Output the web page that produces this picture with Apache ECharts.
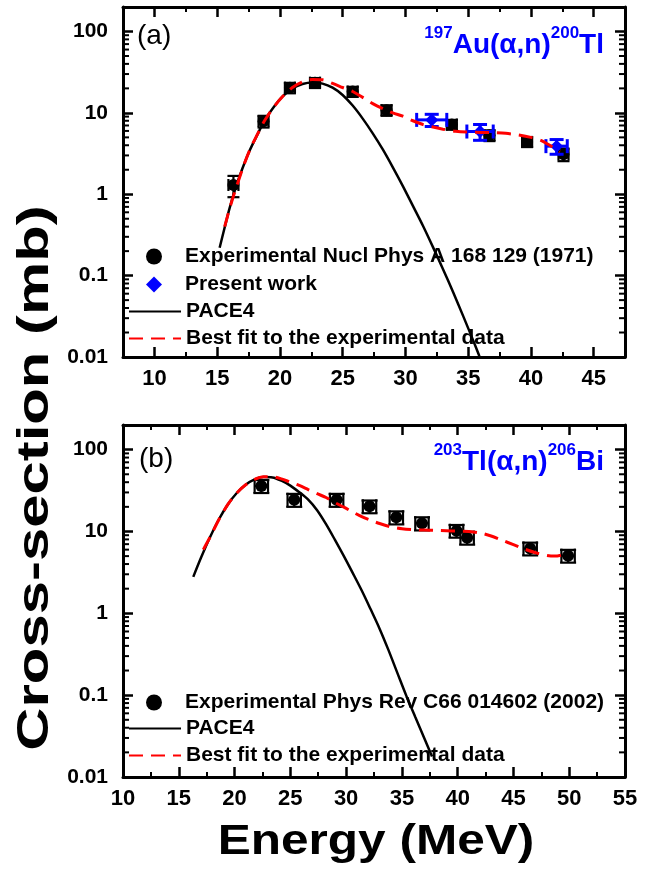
<!DOCTYPE html>
<html>
<head>
<meta charset="utf-8">
<script src="https://cdn.jsdelivr.net/npm/echarts@6/dist/echarts.min.js"></script>
<style>
  html, body { margin: 0; background: #fff; }
  #chart { width: 670px; height: 873px; }
</style>
</head>
<body>
<div id="chart"></div>
<script>
// ---- panel (a): 197Au(a,n)200Tl ----
const expA_E = [16.3, 18.7, 20.8, 22.8, 25.8, 28.5, 33.7, 36.7, 39.7, 42.6]
const expA_V = [1.3, 7.9, 20.4, 23.5, 18.3, 10.8, 7.2, 5.3, 4.4, 3.1]
const expA_dV = [0.38, 1.3, 3.0, 3.3, 2.6, 1.6, 1.0, 0.8, 0.6, 0.55]
const expA_dE = [0.4, 0.4, 0.4, 0.4, 0.4, 0.4, 0.4, 0.4, 0.4, 0.4]

const presA_E = [32.1, 35.95, 42.05]
const presA_V = [8.2, 5.9, 3.9]
const presA_dV = [1.4, 1.3, 0.8]
const presA_dE = [1.2, 1.05, 0.85]

const paceA_E = [15.2, 15.6, 16.0, 16.5, 17.0, 17.6, 18.2, 18.8, 19.5, 20.2, 21.0, 21.8, 22.6, 23.4, 24.2, 25.0, 25.8, 26.6, 27.4, 28.2, 29.0, 29.8, 30.6, 31.4, 32.2, 33.0, 33.8, 34.6, 35.4, 35.9]
const paceA_V = [0.22, 0.39, 0.68, 1.23, 2.04, 3.47, 5.37, 8.13, 11.7, 15.8, 20.0, 22.6, 23.6, 22.9, 20.4, 16.6, 12.3, 8.5, 5.6, 3.55, 2.14, 1.26, 0.72, 0.41, 0.224, 0.12, 0.063, 0.032, 0.016, 0.0102]

const fitA_E = [15.6, 16.2, 17.0, 17.6, 18.2, 18.8, 19.5, 20.2, 21.0, 21.8, 22.6, 23.4, 24.2, 25.0, 25.8, 26.6, 27.4, 28.2, 29.0, 29.8, 30.6, 31.4, 32.2, 33.0, 34.0, 35.0, 36.0, 37.0, 38.0, 39.0, 40.0, 40.8, 41.5, 42.3]
const fitA_V = [0.40, 0.85, 2.0, 3.5, 5.4, 8.1, 11.7, 15.8, 20.5, 24.0, 25.7, 25.5, 23.0, 20.5, 18.3, 15.5, 13.0, 11.3, 10.0, 9.1, 8.0, 7.2, 6.7, 6.3, 5.95, 5.8, 5.75, 5.7, 5.6, 5.35, 5.0, 4.6, 4.0, 3.3]

// ---- panel (b): 203Tl(a,n)206Bi ----
const expB_E = [22.4, 25.35, 29.15, 32.1, 34.5, 36.8, 39.9, 40.85, 46.5, 49.9]
const expB_V = [36, 24.4, 24.4, 20.3, 14.9, 12.6, 10.2, 8.4, 6.2, 5.06]
const expB_dV = [6.5, 4.4, 4.4, 3.6, 2.7, 2.3, 1.8, 1.5, 1.1, 0.9]
const expB_dE = [0.6, 0.6, 0.6, 0.6, 0.6, 0.6, 0.6, 0.6, 0.6, 0.6]

const paceB_E = [16.3, 17.0, 17.8, 18.6, 19.4, 20.2, 21.0, 21.8, 22.6, 23.4, 24.2, 25.0, 25.8, 26.6, 27.4, 28.2, 29.0, 29.8, 30.6, 31.4, 32.2, 33.0, 33.8, 34.6, 35.4, 36.2, 37.0, 37.7]
const paceB_V = [2.79, 4.8, 8.5, 14.1, 21.4, 29.5, 37.2, 43.2, 46.2, 45.7, 41.7, 36.3, 30.2, 24.5, 18.2, 12.3, 7.9, 5.0, 3.1, 1.9, 1.12, 0.65, 0.355, 0.186, 0.098, 0.054, 0.030, 0.0178]

const fitB_E = [17.2, 17.8, 18.6, 19.4, 20.2, 21.0, 21.8, 22.6, 23.4, 24.2, 25.0, 25.8, 26.6, 27.4, 28.2, 29.0, 29.8, 30.6, 31.4, 32.2, 33.0, 34.0, 35.0, 36.0, 37.0, 38.0, 39.0, 40.0, 41.0, 42.0, 43.0, 44.0, 45.0, 46.0, 47.0, 48.0, 48.7, 49.3, 49.8]
const fitB_V = [6.0, 8.5, 14.0, 21.4, 29.5, 37.2, 43.2, 46.5, 46.5, 44.0, 40.0, 36.5, 32.5, 29.0, 26.0, 22.5, 19.8, 17.3, 15.2, 13.7, 12.5, 11.4, 10.8, 10.5, 10.4, 10.3, 10.2, 10.1, 10.0, 9.6, 8.8, 7.8, 6.9, 6.1, 5.5, 5.1, 5.0, 5.15, 5.4]

// ---- ticks ----
const xMajorA = [10, 15, 20, 25, 30, 35, 40, 45]
const xMinorA = [12.5, 17.5, 22.5, 27.5, 32.5, 37.5, 42.5]
const xMajorB = [10, 15, 20, 25, 30, 35, 40, 45, 50, 55]
const xMinorB = [12.5, 17.5, 22.5, 27.5, 32.5, 37.5, 42.5, 47.5, 52.5]
const yTickLabels = ['0.01', '0.1', '1', '10', '100']
const yMinorTicks = [
  0.02, 0.03, 0.04, 0.05, 0.06, 0.07, 0.08, 0.09,
  0.2, 0.3, 0.4, 0.5, 0.6, 0.7, 0.8, 0.9,
  2, 3, 4, 5, 6, 7, 8, 9,
  20, 30, 40, 50, 60, 70, 80, 90,
]

const LEG_A = 'Experimental Nucl Phys A 168 129 (1971)'
const LEG_B = 'Experimental Phys Rev C66 014602 (2002)'
const LEG_PRES = 'Present work'
const LEG_PACE = 'PACE4'
const LEG_FIT = 'Best fit to the experimental data'

const FONT = '"Liberation Sans", Arial, sans-serif'

const zip = (xs, ys) => xs.map((x, i) => [x, ys[i]])
const errData = (E, V, dV, dE) =>
  E.map((e, i) => [e, V[i], V[i] - dV[i], V[i] + dV[i], e - dE[i], e + dE[i]])

function errorBars(color, width, capV, capH) {
  return function (params, api) {
    const x = api.value(0)
    const y = api.value(1)
    const lo = api.coord([x, api.value(2)])
    const hi = api.coord([x, api.value(3)])
    const le = api.coord([api.value(4), y])
    const ri = api.coord([api.value(5), y])
    const style = { stroke: color, lineWidth: width }
    const seg = (x1, y1, x2, y2) => ({ type: 'line', shape: { x1, y1, x2, y2 }, style })
    return {
      type: 'group',
      children: [
        seg(lo[0], lo[1], hi[0], hi[1]),
        seg(lo[0] - capV, lo[1], lo[0] + capV, lo[1]),
        seg(hi[0] - capV, hi[1], hi[0] + capV, hi[1]),
        seg(le[0], le[1], ri[0], ri[1]),
        seg(le[0], le[1] - capH, le[0], le[1] + capH),
        seg(ri[0], ri[1] - capH, ri[0], ri[1] + capH),
      ],
    }
  }
}

function xAxes(grid, min, max, majors, minors) {
  const line = { show: true, onZero: false, lineStyle: { color: '#000', width: 3 } }
  const majorTick = { show: true, inside: true, length: 10, lineStyle: { color: '#000', width: 2.5 }, customValues: majors }
  const minorTick = { show: true, inside: true, length: 5, lineStyle: { color: '#000', width: 2 }, customValues: minors }
  const base = { type: 'value', gridIndex: grid, min, max, splitLine: { show: false } }
  return [
    {
      ...base, position: 'bottom', axisLine: line, axisTick: majorTick,
      axisLabel: { customValues: majors, color: '#000', fontSize: 22, fontWeight: 'bold', fontFamily: FONT, margin: 11 },
    },
    { ...base, position: 'bottom', axisLine: { show: false }, axisTick: minorTick, axisLabel: { show: false } },
    { ...base, position: 'top', axisLine: line, axisTick: majorTick, axisLabel: { show: false } },
    { ...base, position: 'top', axisLine: { show: false }, axisTick: minorTick, axisLabel: { show: false } },
  ]
}

function yAxes(grid) {
  const base = {
    type: 'log', gridIndex: grid, min: 0.01, max: 200,
    splitLine: { show: false },
    axisLine: { show: true, onZero: false, lineStyle: { color: '#000', width: 3 } },
    axisTick: { show: true, inside: true, length: 10, lineStyle: { color: '#000', width: 2.5 } },
  }
  return [
    {
      ...base, position: 'left',
      axisLabel: {
        color: '#000', fontSize: 21, fontWeight: 'bold', fontFamily: FONT, margin: 15,
        formatter: (v) => {
          const lg = Math.log10(v)
          const k = Math.round(lg)
          return Math.abs(lg - k) < 1e-6 && k >= -2 && k <= 2 ? yTickLabels[k + 2] : ''
        },
      },
    },
    { ...base, position: 'right', axisLabel: { show: false } },
  ]
}

function yMinorSeries(xi, yi, xEdge, dir) {
  return {
    type: 'scatter', xAxisIndex: xi, yAxisIndex: yi,
    data: yMinorTicks.map((v) => [xEdge, v]),
    symbol: 'rect', symbolSize: [6, 2], symbolOffset: [dir * 3, 0],
    itemStyle: { color: '#000', opacity: 1 }, silent: true, clip: false, z: 6,
  }
}

const noSymbol = { color: 'rgba(0,0,0,0)', borderColor: 'rgba(0,0,0,0)', borderWidth: 0 }
const legendText = { color: '#000', fontSize: 21, fontWeight: 'bold', fontFamily: FONT }

// line entries: 52px wide icon starting at x=128
function legendLine(name, top) {
  return {
    left: 128, top, padding: 0, itemWidth: 52, itemHeight: 15, selectedMode: false,
    textStyle: legendText,
    data: [{ name, itemStyle: noSymbol }],
  }
}

// marker entries: small icon centred where the line icons are centred
function legendMarker(name, top) {
  return {
    left: 146, top, padding: 0, itemWidth: 16, itemHeight: 16, selectedMode: false,
    textStyle: { ...legendText, padding: [0, 0, 0, 18] },
    data: [name],
  }
}

const paceStyle = { color: '#000', width: 2.5 }
const fitStyle = { color: '#ff0000', width: 3, type: [14, 8] }

const titleRich = {
  s: { fontSize: 17, fontWeight: 'bold', fontFamily: FONT, fill: '#0000ff', lineHeight: 17, verticalAlign: 'top' },
  m: { fontSize: 28, fontWeight: 'bold', fontFamily: FONT, fill: '#0000ff', lineHeight: 40 },
}

const chart = echarts.init(document.getElementById('chart'))
chart.setOption({
  animation: false,
  backgroundColor: '#fff',
  grid: [
    { left: 123, width: 502, top: 7, height: 350 },
    { left: 123, width: 502, top: 425, height: 352 },
  ],
  xAxis: [
    ...xAxes(0, 7.5, 47.5, xMajorA, xMinorA),
    ...xAxes(1, 10, 55, xMajorB, xMinorB),
  ],
  yAxis: [...yAxes(0), ...yAxes(1)],
  legend: [
    legendMarker(LEG_A, 246),
    legendMarker(LEG_PRES, 274),
    legendLine(LEG_PACE, 301),
    legendLine(LEG_FIT, 328),
    legendMarker(LEG_B, 692),
    legendLine(LEG_PACE, 718),
    legendLine(LEG_FIT, 745),
  ],
  graphic: [
    { type: 'text', x: 137, y: 36, style: { text: '(a)', font: '28px ' + FONT, fill: '#000', textVerticalAlign: 'middle' } },
    { type: 'text', x: 139, y: 459, style: { text: '(b)', font: '28px ' + FONT, fill: '#000', textVerticalAlign: 'middle' } },
    {
      type: 'text', x: 604, y: 45,
      style: { text: '{s|197}{m|Au(α,n)}{s|200}{m|Tl}', textAlign: 'right', textVerticalAlign: 'middle', rich: titleRich },
    },
    {
      type: 'text', x: 604, y: 462,
      style: { text: '{s|203}{m|Tl(α,n)}{s|206}{m|Bi}', textAlign: 'right', textVerticalAlign: 'middle', rich: titleRich },
    },
    {
      type: 'text', x: 36, y: 478, rotation: Math.PI / 2, scaleX: 1.33,
      style: { text: 'Cross-section (mb)', font: 'bold 45px ' + FONT, fill: '#000', textAlign: 'center', textVerticalAlign: 'middle' },
    },
    {
      type: 'text', x: 376, y: 842, scaleX: 1.18,
      style: { text: 'Energy (MeV)', font: 'bold 42px ' + FONT, fill: '#000', textAlign: 'center', textVerticalAlign: 'middle' },
    },
  ],
  series: [
    // panel (a)
    { name: LEG_PACE, type: 'line', xAxisIndex: 0, yAxisIndex: 0, data: zip(paceA_E, paceA_V), symbol: 'none', smooth: 0.3, lineStyle: paceStyle, itemStyle: { color: '#000' }, z: 2 },
    { name: LEG_A, type: 'scatter', xAxisIndex: 0, yAxisIndex: 0, data: zip(expA_E, expA_V), symbol: 'circle', symbolSize: 12, itemStyle: { color: '#000', opacity: 1 }, z: 3 },
    { type: 'custom', xAxisIndex: 0, yAxisIndex: 0, data: errData(expA_E, expA_V, expA_dV, expA_dE), renderItem: errorBars('#000', 2.2, 6, 6), z: 3, silent: true },
    { type: 'custom', xAxisIndex: 0, yAxisIndex: 0, data: errData(presA_E, presA_V, presA_dV, presA_dE), renderItem: errorBars('#0000ff', 3, 7, 7), z: 4, silent: true },
    { name: LEG_PRES, type: 'scatter', xAxisIndex: 0, yAxisIndex: 0, data: zip(presA_E, presA_V), symbol: 'diamond', symbolSize: 13, itemStyle: { color: '#0000ff', opacity: 1 }, z: 4 },
    { name: LEG_FIT, type: 'line', xAxisIndex: 0, yAxisIndex: 0, data: zip(fitA_E, fitA_V), symbol: 'none', smooth: 0.3, lineStyle: fitStyle, itemStyle: { color: '#ff0000' }, z: 5 },
    yMinorSeries(0, 0, 7.5, 1),
    yMinorSeries(0, 1, 47.5, -1),
    // panel (b)
    { name: LEG_PACE, type: 'line', xAxisIndex: 4, yAxisIndex: 2, data: zip(paceB_E, paceB_V), symbol: 'none', smooth: 0.3, lineStyle: paceStyle, itemStyle: { color: '#000' }, z: 2 },
    { name: LEG_B, type: 'scatter', xAxisIndex: 4, yAxisIndex: 2, data: zip(expB_E, expB_V), symbol: 'circle', symbolSize: 12, itemStyle: { color: '#000', opacity: 1 }, z: 3 },
    { type: 'custom', xAxisIndex: 4, yAxisIndex: 2, data: errData(expB_E, expB_V, expB_dV, expB_dE), renderItem: errorBars('#000', 2.2, 8, 7), z: 3, silent: true },
    { name: LEG_FIT, type: 'line', xAxisIndex: 4, yAxisIndex: 2, data: zip(fitB_E, fitB_V), symbol: 'none', smooth: 0.3, lineStyle: fitStyle, itemStyle: { color: '#ff0000' }, z: 5 },
    yMinorSeries(4, 2, 10, 1),
    yMinorSeries(4, 3, 55, -1),
  ],
})
</script>
</body>
</html>
